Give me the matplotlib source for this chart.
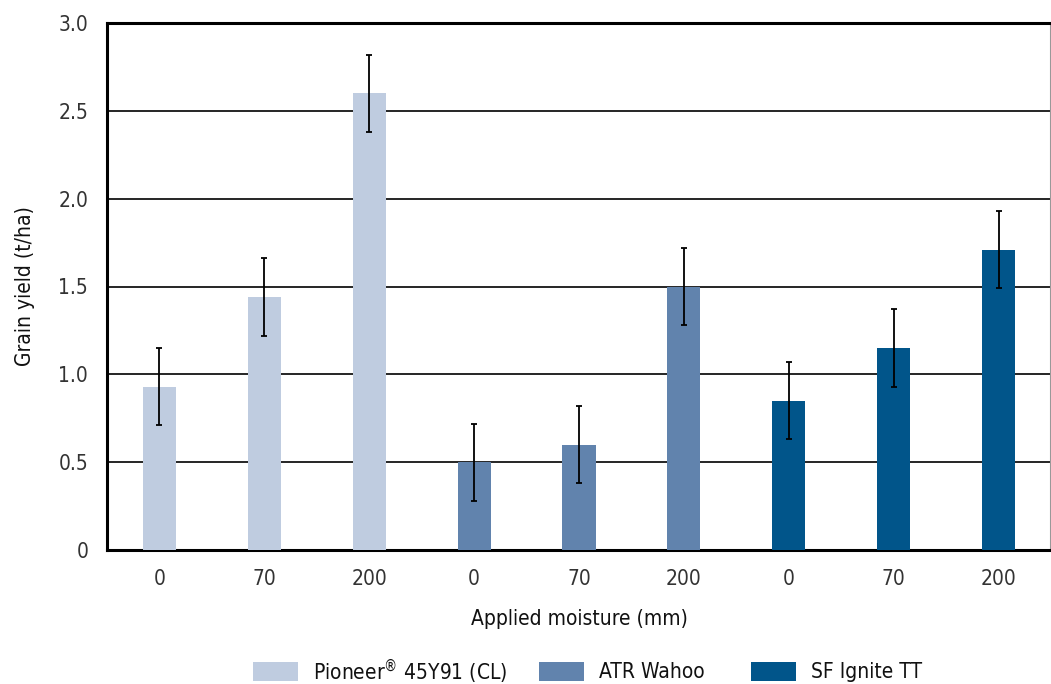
import matplotlib
matplotlib.use("Agg")
import matplotlib.pyplot as plt
from matplotlib.patches import Rectangle
from matplotlib.ticker import FuncFormatter
from matplotlib import font_manager

# Prefer a condensed face when one is installed
cond = [f for f in font_manager.fontManager.ttflist
        if f.name == 'DejaVu Sans' and 'ondensed' in f.fname]
plt.rcParams['font.family'] = ['DejaVu Sans']
if cond:
    plt.rcParams['font.stretch'] = 'condensed'

# Data
varieties = ["Pioneer$^{\u00ae}$ 45Y91 (CL)", "ATR Wahoo", "SF Ignite TT"]
moisture_labels = ["0", "70", "200"]
pioneer_yield = [0.93, 1.44, 2.60]
wahoo_yield = [0.50, 0.60, 1.50]
ignite_yield = [0.85, 1.15, 1.71]
error = [0.22, 0.22, 0.22]
colors = ["#BFCCE0", "#6183AD", "#01558A"]

FS = 15
W, H = 1051, 684
fig = plt.figure(figsize=(W / 100, H / 100), dpi=100)
ax = fig.add_axes([107 / W, 134 / H, (W - 107) / W, (550 - 23) / H])

series = [pioneer_yield, wahoo_yield, ignite_yield]
tick_pos, tick_lab = [], []
for g, (vals, col) in enumerate(zip(series, colors)):
    xs = [g * len(moisture_labels) + i for i in range(len(vals))]
    ax.bar(xs, vals, width=0.315, color=col, zorder=3)
    ax.errorbar(xs, vals, yerr=error, fmt='none', ecolor='black',
                elinewidth=1.3, capsize=2.5, capthick=1.3, zorder=4)
    tick_pos += xs
    tick_lab += moisture_labels

ax.set_xlim(-0.5, 8.5)
ax.set_ylim(0, 3.0)
ax.set_yticks([0, 0.5, 1.0, 1.5, 2.0, 2.5, 3.0])
ax.yaxis.set_major_formatter(FuncFormatter(lambda v, p: "0" if v == 0 else f"{v:.1f}"))
ax.set_xticks(tick_pos)
ax.set_xticklabels(tick_lab)
ax.yaxis.grid(True, color='black', linewidth=1.2, zorder=1)
ax.tick_params(axis='both', length=0, labelsize=FS, labelcolor='#333333')
ax.tick_params(axis='y', pad=13.5)
ax.tick_params(axis='x', pad=14)

for side in ['left', 'bottom', 'top']:
    ax.spines[side].set_linewidth(2.2)
    ax.spines[side].set_color('black')
ax.spines['right'].set_color('#999999')
ax.spines['right'].set_linewidth(1.5)

ax.set_xlabel("Applied moisture (mm)", fontsize=FS, color='#111111', labelpad=14)
ax.set_ylabel("Grain yield (t/ha)", fontsize=FS, color='#111111', labelpad=17)

# Legend row along the bottom edge
legend_x = [253, 539, 751]
for x0, col, name in zip(legend_x, colors, varieties):
    fig.patches.append(Rectangle((x0 / W, 3 / H), 45 / W, 19 / H,
                                 transform=fig.transFigure, facecolor=col,
                                 edgecolor='none'))
    fig.text((x0 + 60) / W, 12.5 / H, name, fontsize=FS, color='#111111',
             ha='left', va='center')

fig.savefig("out.png", dpi=100)
